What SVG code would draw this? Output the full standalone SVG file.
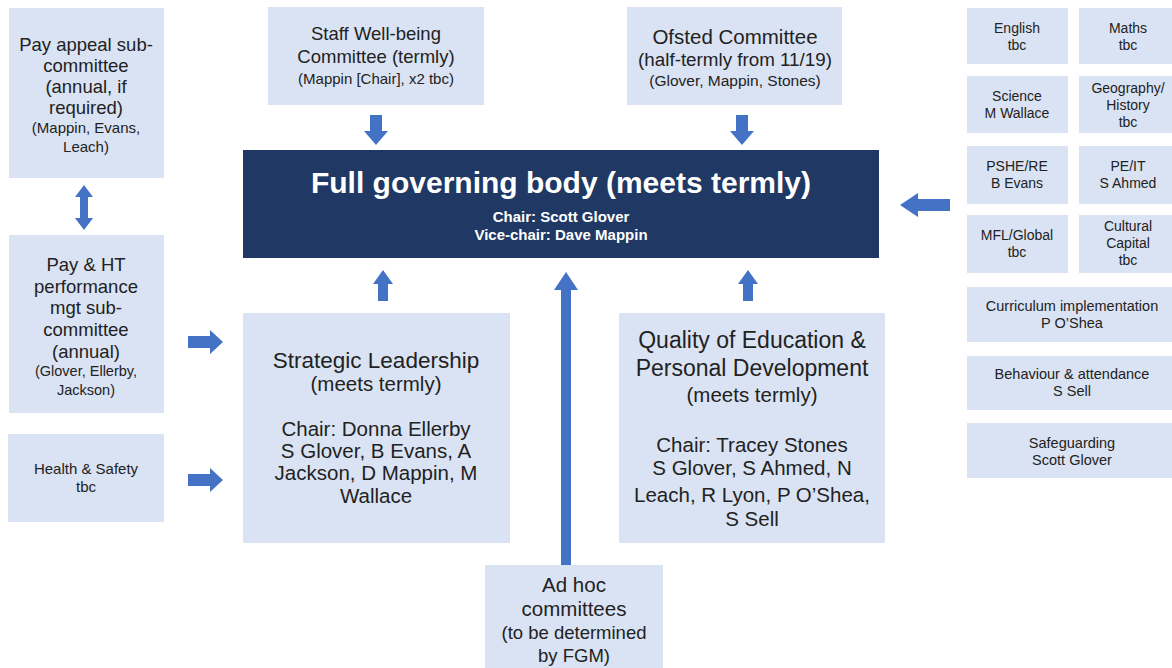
<svg xmlns="http://www.w3.org/2000/svg" width="1172" height="668" viewBox="0 0 1172 668">
<style>
.box{fill:#DAE3F3}
.t{font-family:"Liberation Sans",Arial,sans-serif;fill:#222;text-anchor:middle}
.a{fill:#4472C4}
.s14{font-size:14px}
</style>
<rect width="1172" height="668" fill="#fff"/>
<g id="connectors">
<path class="a" d="M84,185 L93,197 L88,197 L88,218 L93,218 L84,230 L75,218 L80,218 L80,197 L75,197 Z"/>
<path class="a" d="M370,115 L382,115 L382,131 L388,131 L376,145 L364,131 L370,131 Z"/>
<path class="a" d="M736,115 L748,115 L748,131 L754,131 L742,145 L730,131 L736,131 Z"/>
<path class="a" d="M378,301 L388,301 L388,284 L393,284 L383,270 L373,284 L378,284 Z"/>
<path class="a" d="M743,301 L753,301 L753,284 L758,284 L748,270 L738,284 L743,284 Z"/>
<path class="a" d="M561,565 L571,565 L571,290 L578,290 L566,272 L554,290 L561,290 Z"/>
<path class="a" d="M950,199 L950,211 L918,211 L918,217 L900,205 L918,193 L918,199 Z"/>
<path class="a" d="M188,336 L210,336 L210,330 L223,342 L210,354 L210,348 L188,348 Z"/>
<path class="a" d="M188,474 L210,474 L210,468 L223,480 L210,492 L210,486 L188,486 Z"/>
</g>
<g id="pay-appeal">
<rect class="box" x="9" y="8" width="155" height="170"/>
<text class="t" style="font-size:18.5px"><tspan x="86" y="51">Pay appeal sub-</tspan><tspan x="86" y="72">committee</tspan><tspan x="86" y="93">(annual, if</tspan><tspan x="86" y="114">required)</tspan></text>
<text class="t" style="font-size:15px"><tspan x="86" y="133">(Mappin, Evans,</tspan><tspan x="86" y="152">Leach)</tspan></text>
</g>
<g id="pay-ht">
<rect class="box" x="9" y="235" width="155" height="178"/>
<text class="t" style="font-size:18.5px"><tspan x="86" y="271">Pay &amp; HT</tspan><tspan x="86" y="293">performance</tspan><tspan x="86" y="314">mgt sub-</tspan><tspan x="86" y="336">committee</tspan><tspan x="86" y="358">(annual)</tspan></text>
<text class="t" style="font-size:14.5px"><tspan x="86" y="376">(Glover, Ellerby,</tspan><tspan x="86" y="395">Jackson)</tspan></text>
</g>
<g id="health-safety">
<rect class="box" x="8" y="434" width="156" height="88"/>
<text class="t" style="font-size:15px"><tspan x="86" y="474">Health &amp; Safety</tspan><tspan x="86" y="492">tbc</tspan></text>
</g>
<g id="staff-wellbeing">
<rect class="box" x="268" y="7" width="216" height="98"/>
<text class="t" style="font-size:18.5px"><tspan x="376" y="40">Staff Well-being</tspan><tspan x="376" y="63">Committee (termly)</tspan></text>
<text class="t" style="font-size:15px"><tspan x="376" y="84">(Mappin [Chair], x2 tbc)</tspan></text>
</g>
<g id="ofsted">
<rect class="box" x="627" y="7" width="215" height="98"/>
<text class="t" style="font-size:20.5px"><tspan x="735" y="44">Ofsted Committee</tspan></text>
<text class="t" style="font-size:18.8px"><tspan x="735" y="66">(half-termly from 11/19)</tspan></text>
<text class="t" style="font-size:15.5px"><tspan x="735" y="86">(Glover, Mappin, Stones)</tspan></text>
</g>
<g id="fgb">
<rect x="243" y="150" width="636" height="108" fill="#1F3864"/>
<text class="t" style="fill:#fff;font-weight:bold;font-size:30px" x="561" y="193">Full governing body (meets termly)</text>
<text class="t" style="fill:#fff;font-weight:bold;font-size:15px"><tspan x="561" y="222">Chair: Scott Glover</tspan><tspan x="561" y="240">Vice-chair: Dave Mappin</tspan></text>
</g>
<g id="strategic">
<rect class="box" x="243" y="313" width="267" height="230"/>
<text class="t" style="font-size:22.5px"><tspan x="376" y="368">Strategic Leadership</tspan></text>
<text class="t" style="font-size:20.5px"><tspan x="376" y="391">(meets termly)</tspan><tspan x="376" y="436">Chair: Donna Ellerby</tspan><tspan x="376" y="458">S Glover, B Evans, A</tspan><tspan x="376" y="480">Jackson, D Mappin, M</tspan><tspan x="376" y="503">Wallace</tspan></text>
</g>
<g id="quality">
<rect class="box" x="619" y="313" width="266" height="230"/>
<text class="t" style="font-size:23px"><tspan x="752" y="348">Quality of Education &amp;</tspan><tspan x="752" y="376">Personal Development</tspan></text>
<text class="t" style="font-size:20.5px"><tspan x="752" y="402">(meets termly)</tspan><tspan x="752" y="452">Chair: Tracey Stones</tspan><tspan x="752" y="475">S Glover, S Ahmed, N</tspan><tspan x="752" y="502">Leach, R Lyon, P O’Shea,</tspan><tspan x="752" y="526">S Sell</tspan></text>
</g>
<g id="adhoc">
<rect class="box" x="485" y="565" width="178" height="103"/>
<text class="t" style="font-size:20.5px"><tspan x="574" y="592">Ad hoc</tspan><tspan x="574" y="616">committees</tspan></text>
<text class="t" style="font-size:18.5px"><tspan x="574" y="639">(to be determined</tspan><tspan x="574" y="662">by FGM)</tspan></text>
</g>
<g id="english"><rect class="box" x="967" y="8" width="101" height="56"/><text class="t s14"><tspan x="1017" y="33">English</tspan><tspan x="1017" y="50">tbc</tspan></text></g>
<g id="maths"><rect class="box" x="1079" y="8" width="93" height="56"/><text class="t s14"><tspan x="1128" y="33">Maths</tspan><tspan x="1128" y="50">tbc</tspan></text></g>
<g id="science"><rect class="box" x="967" y="76" width="101" height="57"/><text class="t s14"><tspan x="1017" y="101">Science</tspan><tspan x="1017" y="118">M Wallace</tspan></text></g>
<g id="geography"><rect class="box" x="1079" y="76" width="93" height="57"/><text class="t s14"><tspan x="1128" y="93">Geography/</tspan><tspan x="1128" y="110">History</tspan><tspan x="1128" y="127">tbc</tspan></text></g>
<g id="pshe"><rect class="box" x="967" y="146" width="101" height="58"/><text class="t s14"><tspan x="1017" y="171">PSHE/RE</tspan><tspan x="1017" y="188">B Evans</tspan></text></g>
<g id="peit"><rect class="box" x="1079" y="146" width="93" height="58"/><text class="t s14"><tspan x="1128" y="171">PE/IT</tspan><tspan x="1128" y="188">S Ahmed</tspan></text></g>
<g id="mfl"><rect class="box" x="967" y="215" width="101" height="58"/><text class="t s14"><tspan x="1017" y="240">MFL/Global</tspan><tspan x="1017" y="257">tbc</tspan></text></g>
<g id="cultural"><rect class="box" x="1079" y="215" width="93" height="58"/><text class="t s14"><tspan x="1128" y="231">Cultural</tspan><tspan x="1128" y="248">Capital</tspan><tspan x="1128" y="265">tbc</tspan></text></g>
<g id="curriculum"><rect class="box" x="967" y="287" width="205" height="55"/><text class="t" style="font-size:14.5px"><tspan x="1072" y="311">Curriculum implementation</tspan><tspan x="1072" y="328">P O’Shea</tspan></text></g>
<g id="behaviour"><rect class="box" x="967" y="356" width="205" height="54"/><text class="t" style="font-size:14.5px"><tspan x="1072" y="379">Behaviour &amp; attendance</tspan><tspan x="1072" y="396">S Sell</tspan></text></g>
<g id="safeguarding"><rect class="box" x="967" y="423" width="205" height="55"/><text class="t" style="font-size:14.5px"><tspan x="1072" y="448">Safeguarding</tspan><tspan x="1072" y="465">Scott Glover</tspan></text></g>
</svg>
